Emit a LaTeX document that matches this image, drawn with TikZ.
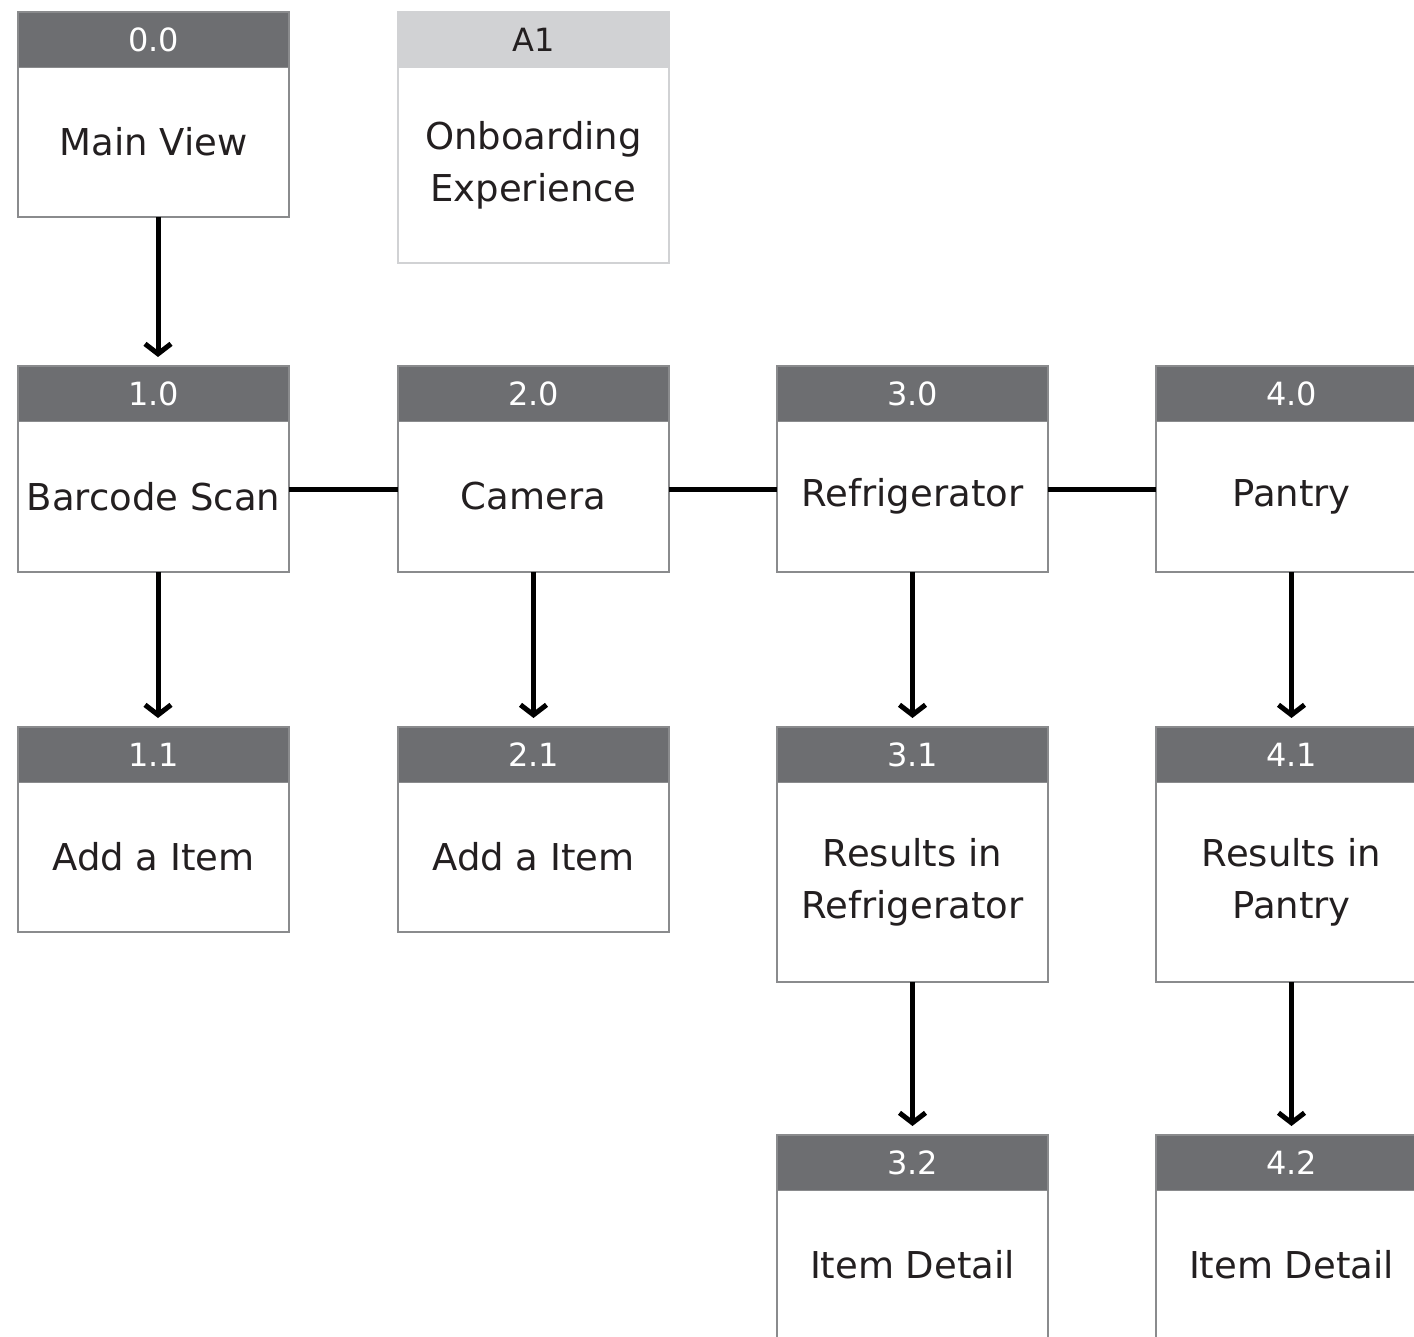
\documentclass[tikz,border=0pt]{standalone}
\usepackage{fontspec}
\setmainfont{DejaVu Sans}
\usetikzlibrary{arrows.meta}
\definecolor{hdr}{HTML}{6D6E71}
\definecolor{hdrlight}{HTML}{D1D2D4}
\definecolor{edgegray}{HTML}{8A8B8D}
\definecolor{ink}{HTML}{231F20}
\newcommand\card[6]{%
  \node[bodybox, minimum height=#4pt] (#1) at (#2, #3+55) {#6};
  \node[hdrbox] (#1h) at (#1.north west) {#5};
  \draw[edgegray, line width=2pt] (#1h.north west) rectangle (#1.south east);
}
\begin{document}
\begin{tikzpicture}[x=1pt,y=-1pt,
  bodybox/.style={draw=edgegray, line width=2pt, fill=white, minimum width=271pt,
    inner sep=0pt, outer sep=0pt, anchor=north west, text=ink, align=center,
    font=\fontsize{37}{52}\selectfont},
  hdrbox/.style={fill=hdr, minimum width=271pt, minimum height=55pt, inner sep=0pt,
    outer sep=0pt, anchor=south west, text=white, font=\fontsize{32}{38}\selectfont},
  arr/.style={line width=5pt, -{Straight Barb[length=10pt, width=26pt]}, shorten >=9pt},
  conn/.style={line width=5pt}]
\useasboundingbox (0,0) rectangle (1414,1337);
\clip (0,0) rectangle (1414,1337);

% row 0
\card{n00}{18}{12}{150}{0.0}{Main View}
\node[bodybox, draw=hdrlight, minimum height=196pt] (a1) at (398, 67) {Onboarding\\Experience};
\node[hdrbox, fill=hdrlight, text=ink] (a1h) at (a1.north west) {A1};
\draw[hdrlight, line width=2pt] (a1h.north west) rectangle (a1.south east);

% row 1
\card{n10}{18}{366}{151}{1.0}{Barcode Scan}
\card{n20}{398}{366}{151}{2.0}{Camera}
\card{n30}{777}{366}{151}{3.0}{Refrigerator}
\card{n40}{1156}{366}{151}{4.0}{Pantry}

% row 2
\card{n11}{18}{727}{150}{1.1}{Add a Item}
\card{n21}{398}{727}{150}{2.1}{Add a Item}
\card{n31}{777}{727}{200}{3.1}{Results in\\Refrigerator}
\card{n41}{1156}{727}{200}{4.1}{Results in\\Pantry}

% row 3
\card{n32}{777}{1135}{150}{3.2}{Item Detail}
\card{n42}{1156}{1135}{150}{4.2}{Item Detail}

% connectors
\draw[arr] ([xshift=4.5pt]n00.south) -- ([xshift=4.5pt]n10h.north);
\draw[arr] ([xshift=4.5pt]n10.south) -- ([xshift=4.5pt]n11h.north);
\draw[arr] (n20.south) -- (n21h.north);
\draw[arr] (n30.south) -- (n31h.north);
\draw[arr] (n40.south) -- (n41h.north);
\draw[arr] (n31.south) -- (n32h.north);
\draw[arr] (n41.south) -- (n42h.north);

\draw[conn] ([yshift=7.5pt]n10.east) -- ([yshift=7.5pt]n20.west);
\draw[conn] ([yshift=7.5pt]n20.east) -- ([yshift=7.5pt]n30.west);
\draw[conn] ([yshift=7.5pt]n30.east) -- ([yshift=7.5pt]n40.west);
\end{tikzpicture}
\end{document}
